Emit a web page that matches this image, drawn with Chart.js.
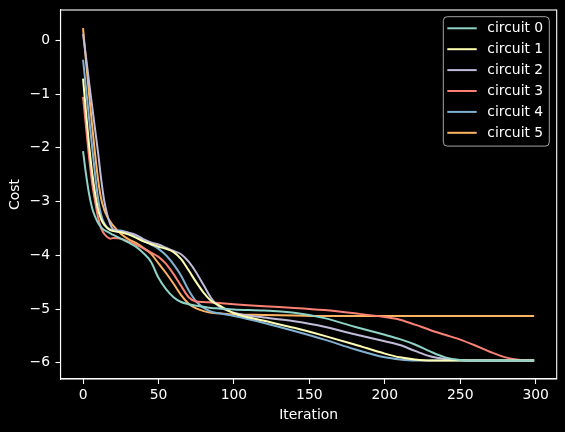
<!DOCTYPE html>
<html>
<head>
<meta charset="utf-8">
<script src="https://cdn.jsdelivr.net/npm/chart.js@4.4.1/dist/chart.umd.min.js"></script>
<style>
    html, body { margin: 0; padding: 0; background: #000; }
    #wrap { width: 565px; height: 432px; }
</style>
</head>
<body>
<div id="wrap"><canvas id="chart" width="565" height="432"></canvas></div>
<script>
// =====================================
// DATA
// =====================================
const iterations = [0, 2, 4, 6, 8, 10, 12, 14, 16, 18, 20, 25, 30, 35, 40, 45, 50, 55, 60, 65, 70, 75, 80, 85, 90,
    100, 120, 140, 160, 180, 200, 210, 220, 230, 240, 250, 260, 270, 280, 290, 299];

const circuit0 = [-2.06, -2.5, -2.86, -3.12, -3.28, -3.4, -3.48, -3.53, -3.56, -3.59, -3.62, -3.69, -3.76, -3.84, -3.96, -4.12, -4.42, -4.63, -4.78, -4.87, -4.91, -4.94, -4.96, -4.98, -4.99,
    -5.01, -5.03, -5.07, -5.17, -5.33, -5.48, -5.56, -5.66, -5.79, -5.9, -5.95, -5.96, -5.96, -5.96, -5.96, -5.96];
const circuit1 = [-0.71, -1.35, -1.95, -2.45, -2.85, -3.15, -3.33, -3.43, -3.49, -3.53, -3.55, -3.57, -3.61, -3.67, -3.74, -3.79, -3.84, -3.88, -3.94, -4.07, -4.28, -4.5, -4.7, -4.85, -4.93,
    -5.08, -5.22, -5.35, -5.5, -5.66, -5.83, -5.9, -5.94, -5.96, -5.96, -5.96, -5.96, -5.96, -5.96, -5.96, -5.96];
const circuit2 = [0.12, -0.32, -0.78, -1.22, -1.66, -2.1, -2.58, -2.98, -3.24, -3.42, -3.52, -3.56, -3.58, -3.62, -3.7, -3.76, -3.8, -3.86, -3.92, -3.98, -4.12, -4.32, -4.56, -4.8, -4.95,
    -5.07, -5.16, -5.23, -5.33, -5.47, -5.6, -5.67, -5.78, -5.88, -5.93, -5.95, -5.96, -5.96, -5.96, -5.96, -5.96];
const circuit3 = [-1.05, -1.62, -2.18, -2.65, -3.0, -3.3, -3.5, -3.6, -3.66, -3.69, -3.68, -3.69, -3.74, -3.8, -3.87, -3.95, -4.03, -4.16, -4.35, -4.57, -4.78, -4.86, -4.87, -4.88, -4.89,
    -4.91, -4.95, -4.98, -5.02, -5.08, -5.15, -5.2, -5.29, -5.39, -5.48, -5.57, -5.68, -5.8, -5.9, -5.95, -5.96];
const circuit4 = [-0.36, -0.9, -1.45, -1.98, -2.5, -2.95, -3.25, -3.4, -3.48, -3.52, -3.53, -3.54, -3.58, -3.65, -3.73, -3.8, -3.88, -4.0, -4.17, -4.38, -4.65, -4.86, -4.98, -5.05, -5.08,
    -5.13, -5.26, -5.41, -5.57, -5.75, -5.9, -5.94, -5.96, -5.96, -5.96, -5.96, -5.96, -5.96, -5.96, -5.96, -5.96];
const circuit5 = [0.23, -0.4, -1.0, -1.58, -2.12, -2.6, -2.95, -3.15, -3.28, -3.37, -3.45, -3.6, -3.7, -3.77, -3.86, -3.97, -4.15, -4.33, -4.53, -4.74, -4.9, -4.99, -5.04, -5.07, -5.08,
    -5.1, -5.11, -5.12, -5.13, -5.13, -5.13, -5.13, -5.13, -5.13, -5.13, -5.13, -5.13, -5.13, -5.13, -5.13, -5.13];

const seriesNames = ["circuit 0", "circuit 1", "circuit 2", "circuit 3", "circuit 4", "circuit 5"];
const seriesValues = [circuit0, circuit1, circuit2, circuit3, circuit4, circuit5];

// matplotlib dark_background cycle
const COLORS = ["#8dd3c7", "#feffb3", "#bfbbd9", "#fa8174", "#81b1d2", "#fdb462"];

const FONT = { family: "'DejaVu Sans', sans-serif", size: 13.9 };

// =====================================
// HELPERS
// =====================================
function fmtTick(v) {
    return v < 0 ? "\u2212" + Math.abs(v) : String(v);
}

// frame around the plot (top/right spines too)
const frame = {
    id: "frame",
    afterDatasetsDraw(chart) {
        const { ctx, chartArea: a } = chart;
        ctx.save();
        ctx.strokeStyle = "#ffffff";
        ctx.lineWidth = 1.1;
        ctx.strokeRect(a.left, a.top, a.right - a.left, a.bottom - a.top);
        ctx.restore();
    }
};

// matplotlib-like legend in the upper right
const legendBox = {
    id: "legendBox",
    afterDraw(chart) {
        const { ctx, chartArea: a } = chart;
        const w = 106, rowH = 20.9;
        const n = chart.data.datasets.length;
        const h = rowH * n + 4;
        const x0 = a.right - 7.4 - w;
        const y0 = a.top + 6.7;

        ctx.save();
        ctx.fillStyle = "rgba(0,0,0,0.8)";
        ctx.strokeStyle = "rgba(204,204,204,0.8)";
        ctx.lineWidth = 1;
        ctx.beginPath();
        ctx.roundRect(x0, y0, w, h, 4);
        ctx.fill();
        ctx.stroke();

        ctx.font = FONT.size + "px " + FONT.family;
        ctx.textBaseline = "middle";
        ctx.textAlign = "left";
        chart.data.datasets.forEach((ds, i) => {
            const y = y0 + 11.6 + i * rowH;
            ctx.strokeStyle = ds.borderColor;
            ctx.lineWidth = 2;
            ctx.beginPath();
            ctx.moveTo(x0 + 4, y);
            ctx.lineTo(x0 + 33.4, y);
            ctx.stroke();
            ctx.fillStyle = "#ffffff";
            ctx.fillText(ds.label, x0 + 44, y + 0.5);
        });
        ctx.restore();
    }
};

// =====================================
// CHART
// =====================================
const datasets = seriesValues.map((vals, k) => ({
    label: seriesNames[k],
    data: iterations.map((it, i) => ({ x: it, y: vals[i] })),
    borderColor: COLORS[k],
    backgroundColor: COLORS[k],
    borderWidth: 2,
    pointRadius: 0,
    cubicInterpolationMode: "monotone",
    fill: false
}));

const ctx = document.getElementById("chart").getContext("2d");

new Chart(ctx, {
    type: "line",
    data: { datasets },
    options: {
        responsive: false,
        animation: false,
        devicePixelRatio: 1,
        layout: { padding: { left: 0, top: 10, right: 8.3, bottom: 0 } },
        plugins: {
            legend: { display: false },
            tooltip: { enabled: false }
        },
        scales: {
            x: {
                type: "linear",
                min: -14.95,
                max: 313.95,
                ticks: {
                    stepSize: 50,
                    includeBounds: false,
                    color: "#ffffff",
                    font: FONT,
                    padding: 3,
                    maxRotation: 0,
                    callback: v => fmtTick(v)
                },
                grid: {
                    drawOnChartArea: false,
                    drawTicks: true,
                    tickLength: 5,
                    tickWidth: 1.1,
                    tickColor: "#ffffff",
                    color: "#ffffff"
                },
                border: { display: true, color: "#ffffff", width: 1.1 },
                title: {
                    display: true,
                    text: "Iteration",
                    color: "#ffffff",
                    font: FONT,
                    padding: { top: 0, bottom: 8 }
                },
                afterFit: s => {
                    s.height = 53;
                    s.paddingLeft = 0;
                    s.paddingRight = 0;
                }
            },
            y: {
                min: -6.303,
                max: 0.566,
                ticks: {
                    stepSize: 1,
                    includeBounds: false,
                    color: "#ffffff",
                    font: FONT,
                    padding: 5.5,
                    callback: v => fmtTick(v)
                },
                grid: {
                    drawOnChartArea: false,
                    drawTicks: true,
                    tickLength: 5,
                    tickWidth: 1.1,
                    tickColor: "#ffffff",
                    color: "#ffffff"
                },
                border: { display: true, color: "#ffffff", width: 1.1 },
                title: {
                    display: true,
                    text: "Cost",
                    color: "#ffffff",
                    font: FONT,
                    padding: { top: 7.5, bottom: 0 }
                },
                afterFit: s => {
                    s.width = 60.5;
                    s.paddingTop = 0;
                    s.paddingBottom = 0;
                }
            }
        }
    },
    plugins: [frame, legendBox]
});
</script>
</body>
</html>
